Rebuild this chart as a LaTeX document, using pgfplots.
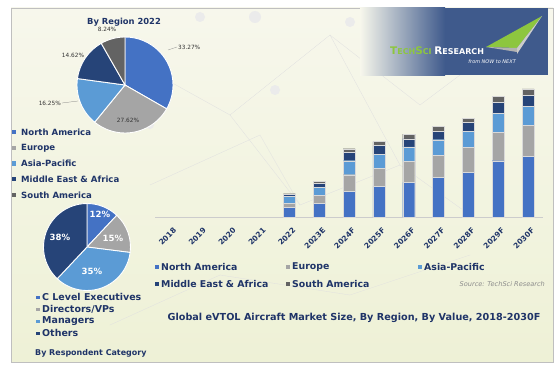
\documentclass[border=0pt]{standalone}
\usepackage{pgfplots}
\pgfplotsset{compat=1.18}
\usepackage{pgfplotstable}
\usepackage{fontspec}
\setmainfont{DejaVu Sans}
\usetikzlibrary{shadings}
\definecolor{cNA}{HTML}{4472C4}
\definecolor{cEU}{HTML}{A5A5A5}
\definecolor{cAP}{HTML}{5B9BD5}
\definecolor{cME}{HTML}{264478}
\definecolor{cSA}{HTML}{636363}
\definecolor{navy}{HTML}{1F3468}
\definecolor{bgA}{HTML}{F7F7EC}
\definecolor{bgB}{HTML}{EEF1D6}
\definecolor{banner}{HTML}{3F5A8C}
\definecolor{lgreen}{HTML}{8DC63F}
\newcommand{\fs}[1]{\fontsize{#1}{#1}\selectfont}

\pgfplotstableread{
x NA EU AP ME SA
4 10 4 6.7 1.7 0.9
5 14 7.7 8 4 2.3
6 26 16.3 14 8.3 3.7
7 30.7 18 14 8.7 4
8 34.7 20.7 14.7 8 4.7
9 40 22 15.3 8.3 5
10 44.7 25 16.3 8.7 4.3
11 56.3 28.3 19.3 10.7 6.3
12 60.7 30.7 19.3 10.7 6.7
}\bars

\begin{document}
\begin{tikzpicture}[x=1bp,y=1bp]
% canvas
\fill[white] (0,0) rectangle (560,365);
\shade[top color=bgA, bottom color=bgB] (11,3) rectangle (553,357);
\draw[black!25, line width=0.4] (11,3) rectangle (553,357);
% network decoration
\begin{scope}[black!12, line width=0.3]
\draw (140,300) -- (230,250) -- (330,330) -- (420,260) -- (500,320);
\draw (150,180) -- (260,230) -- (300,160) -- (400,200) -- (470,150);
\draw (230,250) -- (300,160);
\draw (330,330) -- (400,200);
\draw (110,40) -- (220,90) -- (350,70) -- (470,110);
\fill[black!8] (200,348) circle (5);
\fill[black!8] (255,348) circle (6);
\fill[black!8] (275,275) circle (5);
\fill[black!8] (350,343) circle (5);
\fill[black!8] (388,318) circle (4);
\fill[black!8] (150,240) circle (4);
\end{scope}
% banner
\shade[left color=bgA, right color=banner] (360,290) rectangle (445,357);
\fill[banner] (445,290) rectangle (548,357);
\node[anchor=west, inner sep=0] at (390,314) {\bfseries\color{lgreen}\fs{10.5}T\fs{8}ECH\fs{10.5}S\fs{8}CI \color{white}\fs{10.5}R\fs{8}ESEARCH};
\node[anchor=east, inner sep=0] at (516,303) {\color{white}\itshape\fs{5}from NOW to NEXT};
\fill[lgreen] (486,318) -- (542,349) -- (517,317) -- cycle;
\fill[black!30] (486,318) -- (517,317) -- (517,313) -- cycle;
\fill[white!80!black] (517,317) -- (542,349) -- (517,311) -- cycle;

% ---------- pie 1 ----------
\def\cx{125}\def\cy{280}\def\r{48}
\def\sa{90}
\foreach \v/\c in {33.27/cNA,27.62/cEU,16.25/cAP,14.62/cME,8.24/cSA}{
  \pgfmathsetmacro\ea{\sa-3.6*\v}
  \fill[\c, draw=white, line width=0.9] (\cx,\cy) -- ({\cx+\r*cos(\sa)},{\cy+\r*sin(\sa)}) arc[start angle=\sa, end angle=\ea, radius=\r] -- cycle;
  \xdef\sa{\ea}
}
\node[text=navy, font=\bfseries\fs{8.4}] at (124,343) {By Region 2022};
\begin{scope}[font=\fs{5.8}, text=black!80]
\draw[black!50, line width=0.3] (168,315) -- (177,318);
\node[anchor=west, inner sep=1] at (177,318) {33.27\%};
\node at (128,245) {27.62\%};
\draw[black!50, line width=0.3] (62,262) -- (78,264);
\node[anchor=east, inner sep=1] at (62,262) {16.25\%};
\node at (73,310) {14.62\%};
\node at (107,336) {8.24\%};
\end{scope}
% legend 1
\foreach \t/\c [count=\i from 0] in {North America/cNA,Europe/cEU,Asia-Pacific/cAP,Middle East \& Africa/cME,South America/cSA}{
  \fill[\c] (12,{231-15.8*\i}) rectangle ++(4.2,4.2);
  \node[anchor=west, text=navy, font=\bfseries\fs{8.6}, inner sep=0] at (21,{233-15.8*\i}) {\t};
}

% ---------- pie 2 ----------
\def\cx{87}\def\cy{118}\def\r{43.5}
\def\sa{90}
\foreach \v/\c in {12/cNA,15/cEU,35/cAP,38/cME}{
  \pgfmathsetmacro\ea{\sa-3.6*\v}
  \fill[\c, draw=white, line width=0.9] (\cx,\cy) -- ({\cx+\r*cos(\sa)},{\cy+\r*sin(\sa)}) arc[start angle=\sa, end angle=\ea, radius=\r] -- cycle;
  \xdef\sa{\ea}
}
\begin{scope}[font=\bfseries\fs{8.6}, text=white]
\node at (100,151) {12\%};
\node at (113,127) {15\%};
\node at (92,94) {35\%};
\node at (60,128) {38\%};
\end{scope}
\foreach \t/\c [count=\i from 0] in {C Level Executives/cNA,{Directors/VPs}/cEU,Managers/cAP,Others/cME}{
  \fill[\c] (36,{66-12*\i}) rectangle ++(3.5,3.5);
  \node[anchor=west, text=navy, font=\bfseries\fs{9.5}, inner sep=0] at (42,{68-12*\i}) {\t};
}
\node[anchor=west, text=navy, font=\bfseries\fs{8}, inner sep=0] at (35,12) {By Respondent Category};

% ---------- bar chart ----------
\begin{axis}[
  at={(155bp,148bp)}, anchor=south west, scale only axis,
  width=388bp, height=140bp,
  xmin=-0.5, xmax=12.5, ymin=0, ymax=140,
  ybar stacked, bar width=12bp,
  axis x line=bottom, axis y line=none,
  axis line style={black!20, -},
  xtick={0,...,12}, major tick length=0pt,
  xticklabels={2018,2019,2020,2021,2022,2023E,2024F,2025F,2026F,2027F,2028F,2029F,2030F},
  xticklabel style={anchor=east, xshift=5bp, yshift=-12bp, rotate=45, font=\bfseries\fs{7.5}, text=navy, inner sep=0pt},
  clip=false,
  every axis plot/.append style={draw=white!85!black, line width=0.4pt},
]
\addplot[fill=cNA] table[x=x, y=NA] {\bars};
\addplot[fill=cEU] table[x=x, y=EU] {\bars};
\addplot[fill=cAP] table[x=x, y=AP] {\bars};
\addplot[fill=cME] table[x=x, y=ME] {\bars};
\addplot[fill=cSA] table[x=x, y=SA] {\bars};
\end{axis}

% bar legend
\begin{scope}[text=navy, font=\bfseries\fs{9.4}]
\fill[cNA] (155,96) rectangle ++(4,4); \node[anchor=west, inner sep=0] at (161,98) {North America};
\fill[cEU] (286,96) rectangle ++(4,4); \node[anchor=west, inner sep=0] at (292,98) {Europe};
\fill[cAP] (418,96) rectangle ++(4,4); \node[anchor=west, inner sep=0] at (424,98) {Asia-Pacific};
\fill[cME] (155,79) rectangle ++(4,4); \node[anchor=west, inner sep=0] at (161,81) {Middle East \& Africa};
\fill[cSA] (286,79) rectangle ++(4,4); \node[anchor=west, inner sep=0] at (292,81) {South America};
\end{scope}
\node[anchor=east, inner sep=0, text=black!45, font=\itshape\fs{6.6}] at (545,81) {Source: TechSci Research};
\node[text=navy, font=\bfseries\fs{9.7}] at (354,47) {Global eVTOL Aircraft Market Size, By Region, By Value, 2018-2030F};
\end{tikzpicture}
\end{document}
